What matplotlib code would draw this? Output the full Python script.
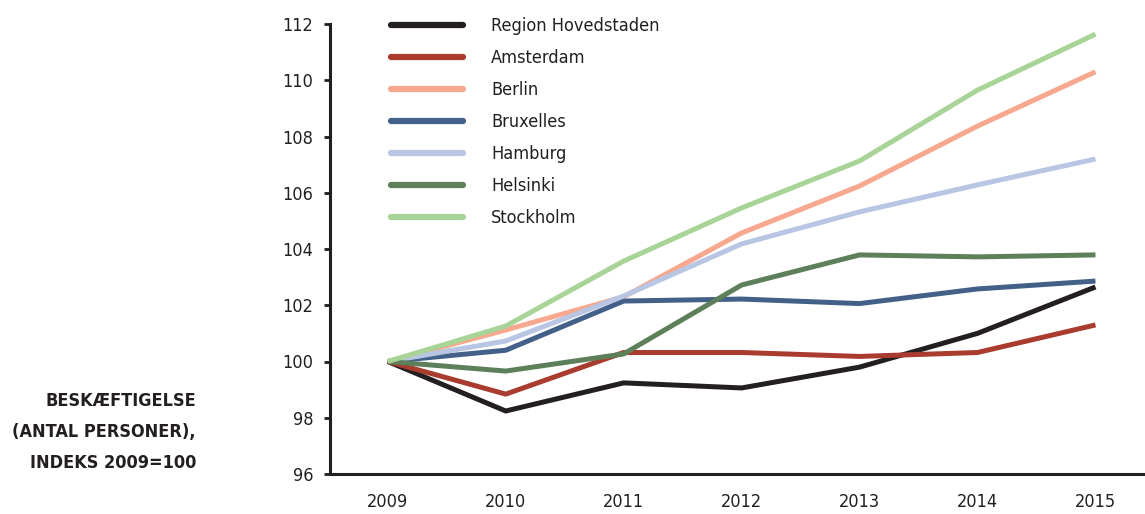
import matplotlib
matplotlib.use('Agg')
import matplotlib.pyplot as plt

plt.rcParams['font.family'] = ['DejaVu Sans']
plt.rcParams['font.stretch'] = 'condensed'

years = [2009, 2010, 2011, 2012, 2013, 2014, 2015]

region_hovedstaden = [100, 98.24, 99.24, 99.06, 99.80, 101.00, 102.65]
amsterdam = [100, 98.84, 100.32, 100.32, 100.18, 100.32, 101.30]
berlin = [100, 101.12, 102.30, 104.57, 106.24, 108.37, 110.30]
bruxelles = [100, 100.40, 102.15, 102.22, 102.06, 102.58, 102.86]
hamburg = [100, 100.73, 102.33, 104.18, 105.32, 106.28, 107.20]
helsinki = [100, 99.66, 100.27, 102.72, 103.79, 103.72, 103.79]
stockholm = [100, 101.26, 103.57, 105.46, 107.13, 109.65, 111.64]

series = [
    ("Region Hovedstaden", region_hovedstaden, "#231f20"),
    ("Amsterdam", amsterdam, "#a93c2e"),
    ("Berlin", berlin, "#f7a88e"),
    ("Bruxelles", bruxelles, "#436089"),
    ("Hamburg", hamburg, "#b8c5e3"),
    ("Helsinki", helsinki, "#5d7f59"),
    ("Stockholm", stockholm, "#a8d597"),
]

fig = plt.figure(figsize=(11.45, 5.14), dpi=100)
ax = fig.add_axes([330 / 1145, 40 / 514, 815 / 1145, 450 / 514])

for name, vals, col in series:
    ax.plot(years, vals, color=col, lw=3.6, label=name, solid_capstyle='butt')

ax.set_xlim(2008.51, 2015.42)
ax.set_ylim(96, 112)
ax.set_yticks(range(96, 113, 2))
ax.set_xticks(years)

for s in ['top', 'right']:
    ax.spines[s].set_visible(False)
for s in ['left', 'bottom']:
    ax.spines[s].set_linewidth(2.2)
    ax.spines[s].set_color('#231f20')

ax.tick_params(axis='y', length=4, width=2, color='#231f20', labelsize=13,
               labelcolor='#231f20', pad=8)
ax.tick_params(axis='x', length=0, labelsize=13, labelcolor='#231f20', pad=14)

leg = ax.legend(loc='upper left', bbox_to_anchor=(380 / 1145, 1 - 6 / 514), bbox_transform=fig.transFigure,
                frameon=False, fontsize=13, handlelength=4.0, handletextpad=1.55,
                labelspacing=0.78, borderpad=0.1)
for line in leg.get_lines():
    line.set_linewidth(4.5)
    line.set_solid_capstyle('round')
for t in leg.get_texts():
    t.set_color('#231f20')

fig.text(196 / 1145, 1 - 432 / 514, "BESKÆFTIGELSE\n(ANTAL PERSONER),\nINDEKS 2009=100",
         ha='right', va='center', fontsize=13, fontweight='bold', color='#231f20',
         linespacing=1.9)

fig.savefig('out.png', dpi=100)
